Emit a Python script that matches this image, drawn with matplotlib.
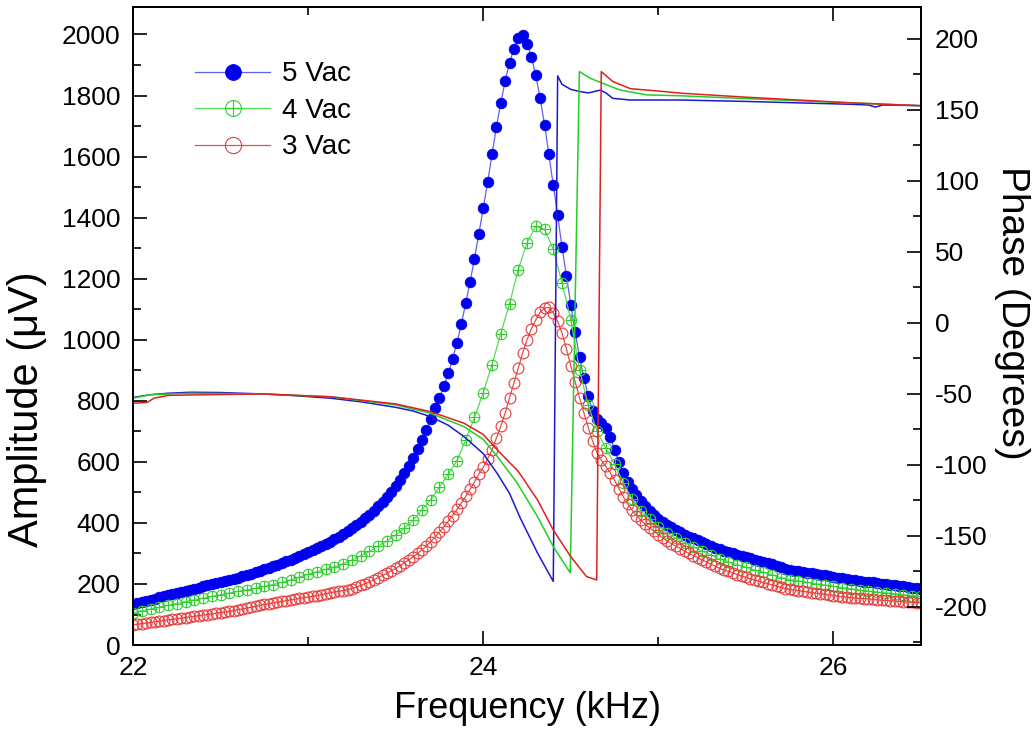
import numpy as np
import matplotlib
matplotlib.use("Agg")
import matplotlib.pyplot as plt
from matplotlib.path import Path
from matplotlib.ticker import MultipleLocator

plt.rcParams['font.family'] = ['Liberation Sans', 'DejaVu Sans']
plt.rcParams['axes.unicode_minus'] = False

# ---------------- data ----------------
# Amplitude (uV); 5 Vac and 3 Vac sampled every 0.025 kHz from 22.0 kHz,
# 4 Vac sampled every 0.05 kHz from 22.0 kHz
f_start = 22.0
step_5vac = 0.025
step_4vac = 0.05
step_3vac = 0.025

amp_5vac = [
    135, 138, 142, 145, 149, 152, 156, 160, 163, 167,
    171, 174, 178, 181, 185, 188, 192, 195, 199, 202,
    206, 209, 213, 217, 221, 225, 229, 233, 238, 243,
    248, 253, 258, 263, 268, 274, 280, 286, 292, 298,
    305, 311, 317, 324, 331, 338, 346, 354, 363, 372,
    382, 392, 403, 415, 427, 440, 454, 469, 485, 502,
    521, 541, 563, 587, 613, 641, 671, 704, 740, 775,
    810, 848, 890, 937, 990, 1052, 1120, 1190, 1266, 1348,
    1430, 1516, 1607, 1697, 1776, 1847, 1907, 1953, 1990, 1997,
    1970, 1927, 1866, 1792, 1705, 1607, 1506, 1408, 1303, 1208,
    1115, 1024, 943, 874, 816, 765, 740, 728, 711, 683,
    639, 598, 563, 535, 510, 490, 472, 455, 440, 426,
    414, 403, 393, 385, 377, 369, 362, 355, 349, 343,
    337, 331, 325, 319, 313, 309, 304, 300, 296, 292,
    288, 284, 280, 276, 272, 268, 264, 259, 254, 250,
    246, 244, 242, 239, 237, 235, 233, 230, 228, 226,
    223, 221, 219, 217, 214, 212, 210, 208, 206, 205,
    203, 201, 199, 197, 195, 194, 192, 190, 188, 187,
    185]

amp_4vac = [
    106, 112, 118, 124, 130, 136, 142, 148, 153, 159,
    165, 170, 176, 181, 186, 192, 198, 205, 213, 222,
    232, 240, 248, 256, 266, 278, 292, 307, 324, 341,
    360, 383, 410, 443, 476, 517, 559, 604, 672, 746,
    827, 918, 1020, 1118, 1230, 1317, 1372, 1362, 1297, 1186,
    1066, 900, 785, 700, 645, 592, 532, 478, 440, 412,
    388, 367, 350, 335, 321, 308, 295, 282, 272, 263,
    255, 246, 238, 230, 221, 214, 210, 205, 201, 197,
    192, 188, 184, 180, 177, 174, 171, 168, 165, 162,
    159]

amp_3vac = [
    66, 68, 70, 72, 74, 76, 78, 80, 82, 84,
    86, 88, 90, 92, 94, 96, 98, 100, 102, 104,
    106, 108, 110, 113, 116, 118, 121, 124, 127, 130,
    133, 135, 138, 141, 143, 145, 148, 150, 153, 155,
    157, 160, 162, 165, 168, 171, 174, 176, 178, 181,
    185, 190, 195, 201, 207, 214, 221, 228, 235, 243,
    251, 260, 269, 279, 289, 300, 312, 325, 339, 354,
    370, 387, 405, 424, 444, 465, 487, 510, 534, 560,
    582, 610, 639, 678, 716, 760, 809, 858, 907, 956,
    1000, 1036, 1065, 1090, 1104, 1106, 1088, 1060, 1022, 970,
    915, 862, 810, 760, 712, 668, 629, 605, 585, 565,
    540, 512, 486, 462, 442, 424, 409, 396, 384, 373,
    362, 351, 341, 332, 324, 316, 308, 300, 293, 286,
    279, 272, 265, 258, 251, 246, 241, 236, 231, 226,
    222, 217, 213, 209, 205, 201, 197, 193, 189, 185,
    182, 180, 178, 176, 174, 172, 170, 168, 166, 164,
    162, 160, 158, 157, 155, 154, 153, 152, 151, 150,
    148, 147, 146, 145, 144, 143, 142, 141, 140, 139,
    138]

# Phase (degrees)
phase_5vac_f = [22.00, 22.10, 22.20, 22.33, 22.50, 22.74, 22.90, 23.13, 23.30,
                23.50, 23.60, 23.70, 23.80, 23.89, 24.00, 24.08, 24.15, 24.21,
                24.31, 24.40, 24.425, 24.45, 24.50, 24.55, 24.60, 24.67, 24.70,
                24.74, 24.84, 25.13, 25.50, 25.80, 26.10, 26.20, 26.24, 26.28,
                26.50]
phase_5vac = [-52.5, -50.5, -49.5, -48.8, -49.0, -50.0, -51.0, -53.0, -55.5,
              -59.4, -62.0, -66.0, -72.0, -80.0, -92.0, -106.0, -120.0, -137.0,
              -162.0, -182.0, 174.0, 168.0, 164.5, 163.0, 162.0, 164.0, 162.0,
              158.2, 157.0, 157.0, 156.0, 155.0, 154.0, 153.5, 152.0, 153.5,
              153.0]

phase_4vac_f = [22.00, 22.10, 22.33, 22.74, 23.13, 23.50, 23.70, 23.89, 24.00,
                24.08, 24.19, 24.31, 24.40, 24.497, 24.549, 24.611, 24.707,
                24.783, 24.935, 25.126, 25.50, 25.80, 26.10, 26.50]
phase_4vac = [-53.0, -50.5, -49.5, -50.0, -52.0, -57.7, -63.6, -73.0, -82.0,
              -94.0, -112.0, -136.4, -157.5, -176.0, 177.0, 172.3, 167.6,
              164.0, 160.6, 160.0, 158.0, 156.5, 155.0, 153.0]

phase_3vac_f = [22.00, 22.08, 22.12, 22.20, 22.33, 22.74, 23.13, 23.50, 23.70,
                23.89, 24.00, 24.08, 24.20, 24.31, 24.40, 24.50, 24.59, 24.648,
                24.674, 24.74, 24.84, 25.03, 25.13, 25.50, 25.80, 26.10, 26.50]
phase_3vac = [-56.5, -56.0, -53.0, -51.0, -50.7, -50.0, -52.0, -57.0, -62.5,
              -70.6, -78.5, -89.4, -104.5, -124.6, -145.8, -164.6, -178.6,
              -181.0, 177.0, 170.0, 165.0, 163.0, 161.8, 159.0, 157.0, 155.0,
              153.0]

labels = ['5 Vac', '4 Vac', '3 Vac']
x_ticks = [22, 24, 26]

# ---------------- figure ----------------
fig = plt.figure(figsize=(10.36, 7.30), dpi=100)
ax = fig.add_axes([0.1284, 0.1164, 0.7606, 0.874])
ax2 = ax.twinx()

f5 = f_start + step_5vac * np.arange(len(amp_5vac))
f4 = f_start + step_4vac * np.arange(len(amp_4vac))
f3 = f_start + step_3vac * np.arange(len(amp_3vac))

# circle-plus marker
circle = Path.unit_circle()
cross = Path([[-1, 0], [1, 0], [0, -1], [0, 1]],
             [Path.MOVETO, Path.LINETO, Path.MOVETO, Path.LINETO])
oplus = Path.make_compound_path(circle, cross)

blue = '#0000F0'
green = '#33CC33'
red = '#E83A3A'

h5, = ax.plot(f5, amp_5vac, color='#6060F0', lw=0.9, marker='o', ms=7.6,
              mfc=blue, mec=blue, mew=0.6, label=labels[0], zorder=3)
h4, = ax.plot(f4, amp_4vac, color='#55DD55', lw=0.9, marker=oplus, ms=7.6,
              mfc='none', mec=green, mew=0.8, label=labels[1], zorder=3)
h3, = ax.plot(f3, amp_3vac, color='#E05050', lw=0.9, marker='o', ms=7.8,
              mfc='none', mec=red, mew=0.8, label=labels[2], zorder=3)

ax2.plot(phase_5vac_f, phase_5vac, color='#1a1ad0', lw=1.1)
ax2.plot(phase_4vac_f, phase_4vac, color='#22D022', lw=1.1)
ax2.plot(phase_3vac_f, phase_3vac, color='#E02020', lw=1.1)

ax.set_xlim(22, 26.5)
ax.set_ylim(0, 2090)
ax2.set_ylim(-226.8, 222.5)

ax.set_xticks(x_ticks)
ax.xaxis.set_minor_locator(MultipleLocator(1))
ax.yaxis.set_major_locator(MultipleLocator(200))
ax.yaxis.set_minor_locator(MultipleLocator(100))
ax2.yaxis.set_major_locator(MultipleLocator(50))
ax2.yaxis.set_minor_locator(MultipleLocator(25))

for a in (ax, ax2):
    for s in a.spines.values():
        s.set_linewidth(1.3)

ax.tick_params(axis='x', which='both', direction='in', top=True, bottom=True,
               labelsize=19, pad=8, width=1.2)
ax.tick_params(axis='y', which='both', direction='in', left=True, right=False,
               labelsize=19, pad=9, width=1.2)
ax.tick_params(which='major', length=10)
ax.tick_params(which='minor', length=6)
ax2.tick_params(axis='y', which='both', direction='in', right=True, left=False,
                labelsize=19, pad=10, width=1.2)
ax2.tick_params(which='major', length=10)
ax2.tick_params(which='minor', length=6)

ax.set_xlabel('Frequency (kHz)', fontsize=26)
ax.xaxis.set_label_coords(0.5, -0.072)
ax.set_ylabel('Amplitude (\u03bcV)', fontsize=30, va='center')
ax.yaxis.set_label_coords(-0.135, 0.37)
ax2.set_ylabel('Phase (Degrees)', fontsize=28, rotation=270, va='center')
ax2.yaxis.set_label_coords(1.115, 0.52)

ax2.legend(handles=[h5, h4, h3], loc='upper left', bbox_to_anchor=(0.079, 0.915),
           frameon=False, fontsize=20, handlelength=2.7, handletextpad=0.43,
           labelspacing=0.38, borderpad=0, borderaxespad=0, markerscale=1.5)

fig.savefig('out.png', dpi=100)
